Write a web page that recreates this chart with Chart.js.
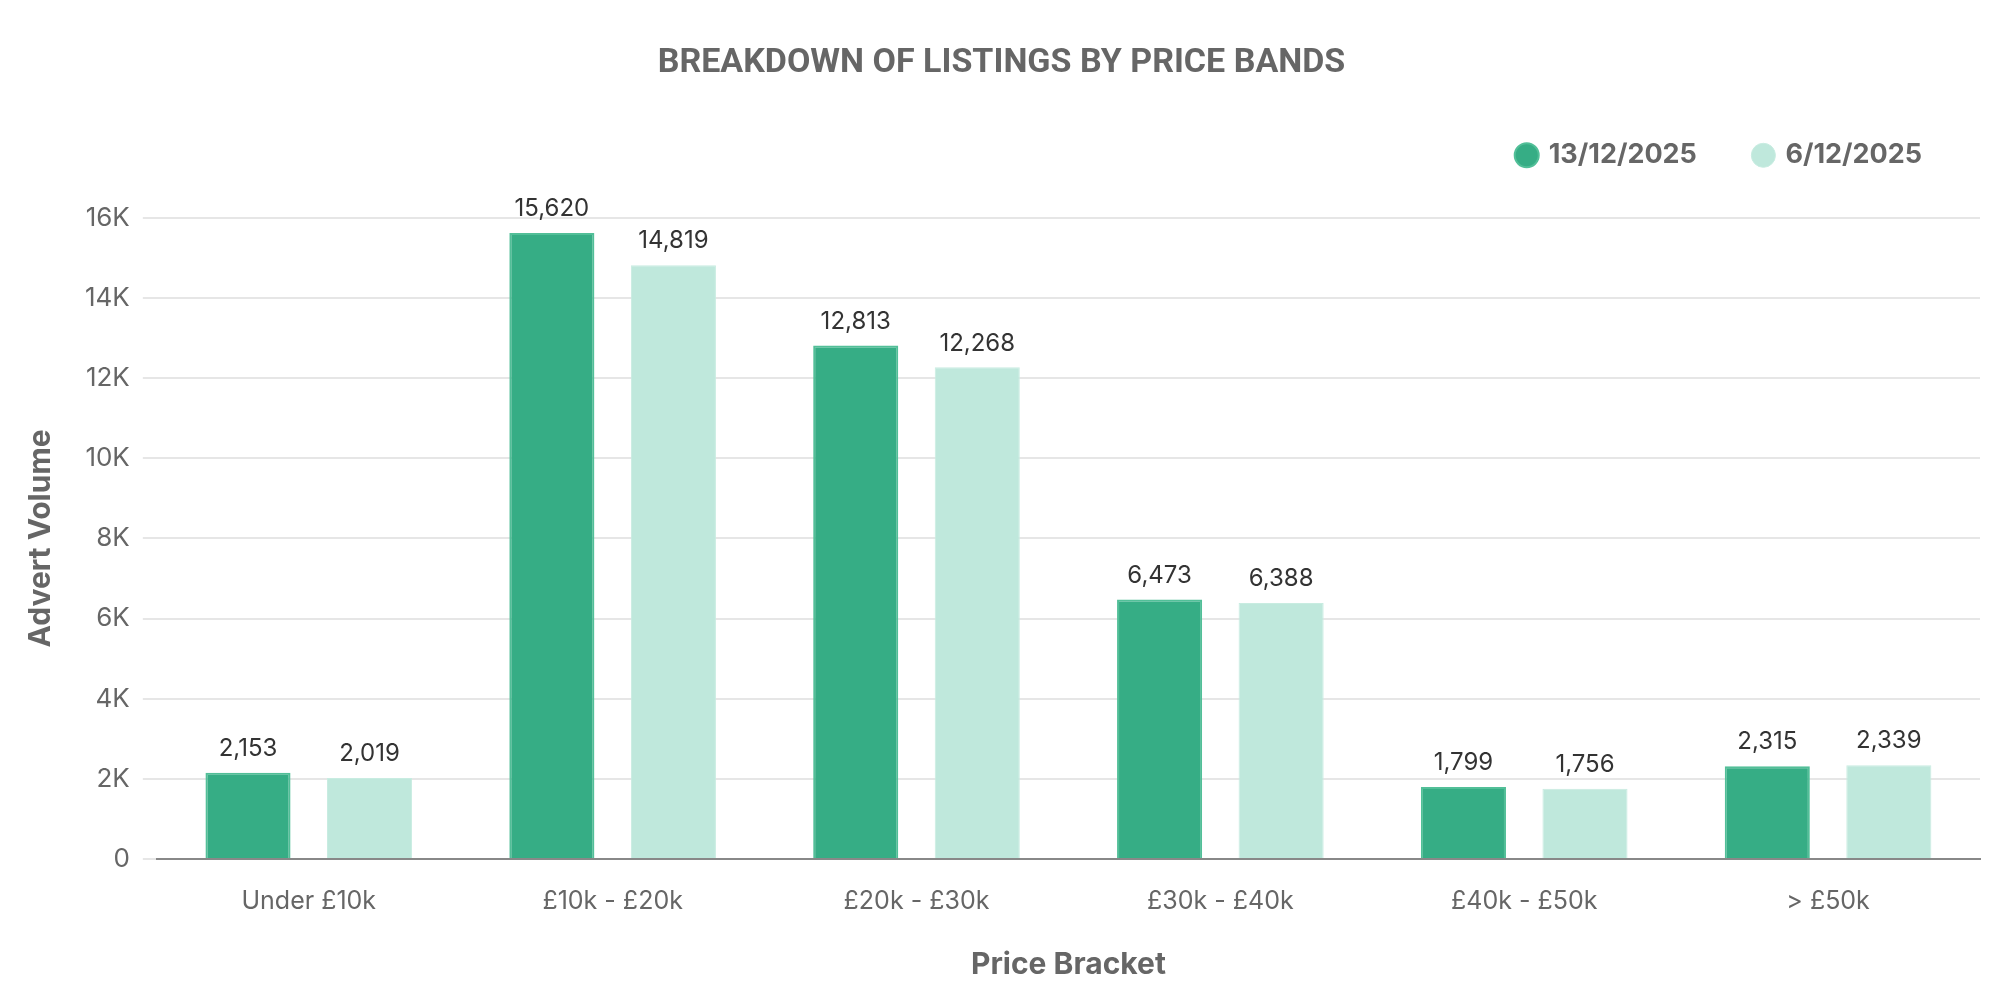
<!DOCTYPE html>
<html>
<head>
<meta charset="utf-8">
<script src="https://cdn.jsdelivr.net/npm/chart.js@4"></script>
<style>
  html, body { margin: 0; padding: 0; background: #fff; }
  #wrap { width: 2000px; height: 1000px; }
</style>
</head>
<body>
<div id="wrap"><canvas id="priceBandsChart" width="2000" height="1000"></canvas></div>
<script>
const priceBrackets = ["Under £10k", "£10k - £20k", "£20k - £30k", "£30k - £40k", "£40k - £50k", "> £50k"];
const seriesLabels = ["13/12/2025", "6/12/2025"];
const listingsLatest = [2153, 15620, 12813, 6473, 1799, 2315];
const listingsPrevious = [2019, 14819, 12268, 6388, 1756, 2339];

// value labels above each bar
const barValueLabels = {
	id: "barValueLabels",
	afterDatasetsDraw(chart) {
		const ctx = chart.ctx;
		ctx.save();
		ctx.font = "24px Inter";
		ctx.fillStyle = "#333";
		ctx.textAlign = "center";
		ctx.textBaseline = "middle";
		chart.data.datasets.forEach((ds, i) => {
			const meta = chart.getDatasetMeta(i);
			meta.data.forEach((bar, j) => {
				ctx.fillText(ds.data[j].toLocaleString("en-US"), bar.x, bar.y - 24);
			});
		});
		ctx.restore();
	},
};

// extra room between legend and plot
const legendGap = {
	id: "legendGap",
	beforeInit(chart) {
		const fit = chart.legend.fit;
		chart.legend.fit = function () {
			fit.bind(chart.legend)();
			this.height += 39;
		};
	},
};

const data = {
	labels: priceBrackets,
	datasets: [
		{
			label: seriesLabels[0],
			data: listingsLatest,
			backgroundColor: "#36ad85",
			borderColor: "#52bf98",
			borderWidth: 2,
			categoryPercentage: 0.8,
			barPercentage: 0.7,
		},
		{
			label: seriesLabels[1],
			data: listingsPrevious,
			backgroundColor: "#bfe8dc",
			borderColor: "#c8ece1",
			borderWidth: 1,
			categoryPercentage: 0.8,
			barPercentage: 0.7,
		},
	],
};

const config = {
	type: "bar",
	data: data,
	options: {
		responsive: false,
		maintainAspectRatio: false,
		animation: false,
		layout: { padding: { left: 23, right: 20, top: 0, bottom: 17 } },
		plugins: {
			title: {
				display: true,
				text: "BREAKDOWN OF LISTINGS BY PRICE BANDS",
				color: "#666",
				font: { family: "Roboto", size: 34, weight: "bold", lineHeight: 1.2 },
				padding: { top: 43, bottom: 0 },
			},
			legend: {
				position: "top",
				align: "end",
				labels: {
					usePointStyle: true,
					pointStyle: "circle",
					boxWidth: 17,
					boxHeight: 17,
					padding: 58,
					color: "#666",
					font: { family: "Inter", size: 27, weight: "bold" },
				},
			},
			tooltip: { enabled: false },
		},
		scales: {
			x: {
				grid: { display: false, drawTicks: false },
				border: { display: true, color: "#888", width: 2 },
				ticks: { color: "#666", padding: 27, font: { family: "Inter", size: 25 } },
				title: {
					display: true,
					text: "Price Bracket",
					color: "#666",
					font: { family: "Inter", size: 30, weight: "bold" },
					padding: { top: 4, bottom: 0 },
				},
			},
			y: {
				min: 0,
				max: 16000,
				grid: { color: "#e6e6e6", lineWidth: 2, drawTicks: true, tickLength: 14 },
				border: { display: false },
				ticks: {
					stepSize: 2000,
					color: "#666",
					padding: 13,
					font: { family: "Inter", size: 26 },
					callback: (v) => (v === 0 ? "0" : v / 1000 + "K"),
				},
				title: {
					display: true,
					text: "Advert Volume",
					color: "#666",
					font: { family: "Inter", size: 30, weight: "bold" },
					padding: { top: 0, bottom: 13 },
				},
			},
		},
	},
	plugins: [barValueLabels, legendGap],
};

const ctx = document.getElementById("priceBandsChart").getContext("2d");
new Chart(ctx, config);
</script>
</body>
</html>
